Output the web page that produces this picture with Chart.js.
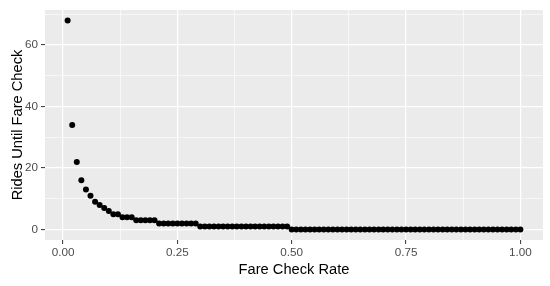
<!DOCTYPE html>
<html>
<head>
<meta charset="utf-8">
<script src="https://cdn.jsdelivr.net/npm/chart.js@4"></script>
<style>
  html, body { margin:0; padding:0; background:#fff; }
  #wrap { width:550px; height:286px; }
</style>
</head>
<body>
<div id="wrap"><canvas id="c"></canvas></div>
<script>
// fare check rate (x) and rides until a fare check (y)
const rates = [0.01,0.02,0.03,0.04,0.05,0.06,0.07,0.08,0.09,0.10,
  0.11,0.12,0.13,0.14,0.15,0.16,0.17,0.18,0.19,0.20,
  0.21,0.22,0.23,0.24,0.25,0.26,0.27,0.28,0.29,0.30,
  0.31,0.32,0.33,0.34,0.35,0.36,0.37,0.38,0.39,0.40,
  0.41,0.42,0.43,0.44,0.45,0.46,0.47,0.48,0.49,0.50,
  0.51,0.52,0.53,0.54,0.55,0.56,0.57,0.58,0.59,0.60,
  0.61,0.62,0.63,0.64,0.65,0.66,0.67,0.68,0.69,0.70,
  0.71,0.72,0.73,0.74,0.75,0.76,0.77,0.78,0.79,0.80,
  0.81,0.82,0.83,0.84,0.85,0.86,0.87,0.88,0.89,0.90,
  0.91,0.92,0.93,0.94,0.95,0.96,0.97,0.98,0.99,1.00];
const rides = [68,34,22,16,13,11,9,8,7,6,
  5,5,4,4,4,3,3,3,3,3,
  2,2,2,2,2,2,2,2,2,1,
  1,1,1,1,1,1,1,1,1,1,
  1,1,1,1,1,1,1,1,1,0,
  0,0,0,0,0,0,0,0,0,0,
  0,0,0,0,0,0,0,0,0,0,
  0,0,0,0,0,0,0,0,0,0,
  0,0,0,0,0,0,0,0,0,0,
  0,0,0,0,0,0,0,0,0,0];
const xTicks = [0, 0.125, 0.25, 0.375, 0.5, 0.625, 0.75, 0.875, 1];
const yTicks = [0, 10, 20, 30, 40, 50, 60, 70];
const xMajor = [0, 0.25, 0.5, 0.75, 1];
const yMajor = [0, 20, 40, 60];

const isMajor = (list, v) => list.some(m => Math.abs(m - v) < 1e-9);

// grey panel like ggplot
const panelBg = {
  id: 'panelBg',
  beforeDraw(chart) {
    const {ctx, chartArea:a} = chart;
    ctx.save();
    ctx.fillStyle = '#EBEBEB';
    ctx.fillRect(a.left, a.top, a.right - a.left, a.bottom - a.top);
    ctx.restore();
  }
};

const tickFont = {family:'"Liberation Sans", Arial, sans-serif', size:11.7};
const titleFont = {family:'"Liberation Sans", Arial, sans-serif', size:14.67};

new Chart(document.getElementById('c'), {
  type: 'scatter',
  data: {
    datasets: [{
      data: rates.map((r, i) => ({x:r, y:rides[i]})),
      backgroundColor: '#000',
      borderColor: '#000',
      borderWidth: 0,
      pointRadius: 3,
      pointHoverRadius: 3
    }]
  },
  options: {
    responsive: true,
    maintainAspectRatio: false,
    animation: false,
    layout: {padding: {top:6, right:7, left:0, bottom:0}},
    plugins: {legend:{display:false}, tooltip:{enabled:false}},
    scales: {
      x: {
        type: 'linear',
        min: -0.0395, max: 1.0495,
        afterBuildTicks: s => { s.ticks = xTicks.map(v => ({value:v})) },
        afterFit: s => { s.height = 46 },
        border: {display:false},
        grid: {
          color: '#fff',
          lineWidth: c => isMajor(xMajor, c.tick.value) ? 1.2 : 0.6,
          tickColor: c => isMajor(xMajor, c.tick.value) ? '#333' : 'rgba(0,0,0,0)',
          tickLength: 4,
          tickWidth: 1
        },
        ticks: {
          color: '#4D4D4D', font: tickFont, padding: 2, maxRotation: 0, autoSkip: false,
          callback: v => isMajor(xMajor, v) ? v.toFixed(2) : ''
        },
        title: {display:true, text:'Fare Check Rate', color:'#000', font:titleFont, padding:{top:7, bottom:7}}
      },
      y: {
        min: -3.4, max: 71.4,
        afterBuildTicks: s => { s.ticks = yTicks.map(v => ({value:v})) },
        afterFit: s => { s.width = 45 },
        border: {display:false},
        grid: {
          color: '#fff',
          lineWidth: c => isMajor(yMajor, c.tick.value) ? 1.2 : 0.6,
          tickColor: c => isMajor(yMajor, c.tick.value) ? '#333' : 'rgba(0,0,0,0)',
          tickLength: 4,
          tickWidth: 1
        },
        ticks: {
          color: '#4D4D4D', font: tickFont, padding: 3, autoSkip: false,
          callback: v => isMajor(yMajor, v) ? String(v) : ''
        },
        title: {display:true, text:'Rides Until Fare Check', color:'#000', font:titleFont, padding:{top:9, bottom:9}}
      }
    }
  },
  plugins: [panelBg]
});
</script>
</body>
</html>
